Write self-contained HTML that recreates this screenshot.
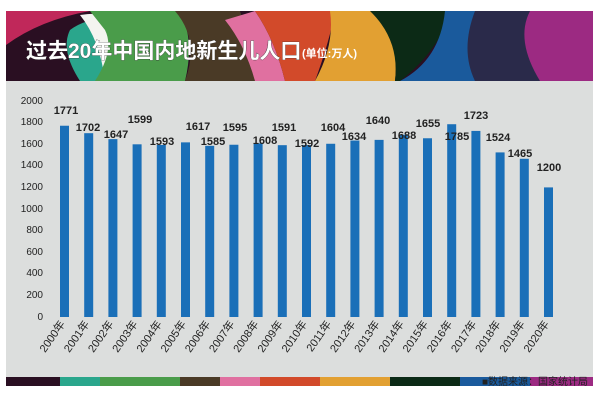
<!DOCTYPE html>
<html><head><meta charset="utf-8"><style>
body{margin:0;background:#fff;width:600px;height:405px;overflow:hidden;font-family:"Liberation Sans","Noto Sans CJK SC",sans-serif}
</style></head><body>
<svg width="600" height="405" viewBox="0 0 600 405" xmlns="http://www.w3.org/2000/svg" font-family="Liberation Sans, Noto Sans CJK SC, sans-serif">
<defs><clipPath id="b"><rect x="6" y="11" width="587" height="70"/></clipPath>
<clipPath id="s"><rect x="6" y="377" width="587" height="9"/></clipPath></defs>
<rect x="6" y="81" width="587" height="296" fill="#dcdedd"/>
<g clip-path="url(#b)">
<rect x="6" y="11" width="587" height="70" fill="#2a0f22"/>
<path d="M6 11 L90 11 Q40 20 6 45Z" fill="#c0285a"/>
<path d="M70 30 Q90 15 120 20 L110 81 L80 81 Q60 50 70 30Z" fill="#2aa68c"/>
<path d="M80 15 Q110 10 130 25 L150 81 L105 81 Q100 40 80 15Z" fill="#f4f4f0"/>
<path d="M90 11 L180 11 Q195 40 185 81 L95 81 Q115 50 105 30Z" fill="#4a9c4a"/>
<path d="M175 11 L240 11 Q250 40 260 81 L185 81 Q200 40 175 11Z" fill="#4a3a26"/>
<path d="M225 20 L255 11 Q275 40 285 81 L255 81 Q245 45 225 20Z" fill="#e070a0"/>
<path d="M255 11 L335 11 Q330 40 315 81 L285 81 Q275 40 255 11Z" fill="#d24a2a"/>
<path d="M330 11 L375 11 Q400 40 395 81 L315 81 Q335 45 330 11Z" fill="#e2a032"/>
<path d="M370 11 L450 11 Q440 50 400 81 L395 81 Q400 40 370 11Z" fill="#0c2a16"/>
<path d="M445 11 L480 11 Q470 40 475 81 L400 81 Q440 60 445 11Z" fill="#1a5a9c"/>
<path d="M475 11 L530 11 Q520 45 540 81 L475 81 Q460 50 475 11Z" fill="#2a2a4a"/>
<path d="M530 11 L593 11 L593 81 L540 81 Q515 40 530 11Z" fill="#9c2a82"/>
</g>
<g clip-path="url(#s)">
<rect x="6" y="377" width="587" height="10" fill="#2a0f22"/>
<rect x="60" y="377" width="40" height="10" fill="#2aa68c"/>
<rect x="100" y="377" width="80" height="10" fill="#4a9c4a"/>
<rect x="180" y="377" width="40" height="10" fill="#4a3a26"/>
<rect x="220" y="377" width="40" height="10" fill="#e070a0"/>
<rect x="260" y="377" width="60" height="10" fill="#d24a2a"/>
<rect x="320" y="377" width="70" height="10" fill="#e2a032"/>
<rect x="390" y="377" width="70" height="10" fill="#0c2a16"/>
<rect x="460" y="377" width="70" height="10" fill="#1a5a9c"/>
<rect x="530" y="377" width="63" height="10" fill="#9c2a82"/>
</g>
<text x="26" y="58" font-size="21" font-weight="bold" fill="#fff" stroke="#333" stroke-width="0.6" paint-order="stroke">过去20年中国内地新生儿人口</text>
<text x="302" y="57" font-size="11" font-weight="bold" fill="#fff">(单位:万人)</text>
<text x="588" y="385" font-size="10" text-anchor="end" fill="#222">■数据来源：国家统计局</text>
<g font-size="10" fill="#222" text-anchor="end">
<text x="43" y="104">2000</text><text x="43" y="125">1800</text><text x="43" y="147">1600</text>
<text x="43" y="168">1400</text><text x="43" y="190">1200</text><text x="43" y="212">1000</text>
<text x="43" y="233">800</text><text x="43" y="255">600</text><text x="43" y="276">400</text>
<text x="43" y="298">200</text><text x="43" y="320">0</text>
</g>
<g id="bars" fill="#1a6fb8"></g>
<g id="vals" font-size="11" font-weight="bold" fill="#222" text-anchor="middle"></g>
<g id="xl" font-size="11" fill="#222"></g>
<script>
var v=[1771,1702,1647,1599,1593,1617,1585,1595,1608,1591,1592,1604,1634,1640,1688,1655,1785,1723,1524,1465,1200];
var lp=[[66,114],[88,131],[116,138],[140,123],[162,145],[198,130],[213,145],[235,131],[265,144],[284,131],[307,147],[333,131],[354,140],[378,124],[404,139],[428,127],[457,140],[476,119],[498,141],[520,157],[549,171]];
var ns="http://www.w3.org/2000/svg",b=document.getElementById('bars'),vl=document.getElementById('vals'),xl=document.getElementById('xl');
for(var i=0;i<21;i++){var cx=64.5+i*24.2,h=v[i]*0.108,y=317-h;
var r=document.createElementNS(ns,'rect');r.setAttribute('x',cx-4.5);r.setAttribute('y',y);r.setAttribute('width',9);r.setAttribute('height',h);b.appendChild(r);
var t=document.createElementNS(ns,'text');t.setAttribute('x',lp[i][0]);t.setAttribute('y',lp[i][1]);t.textContent=v[i];vl.appendChild(t);
var s=document.createElementNS(ns,'text');s.setAttribute('text-anchor','end');s.setAttribute('transform','translate('+(cx+1)+',324) rotate(-55)');s.textContent=(2000+i)+'年';xl.appendChild(s);}
</script>
</svg>
</body></html>
